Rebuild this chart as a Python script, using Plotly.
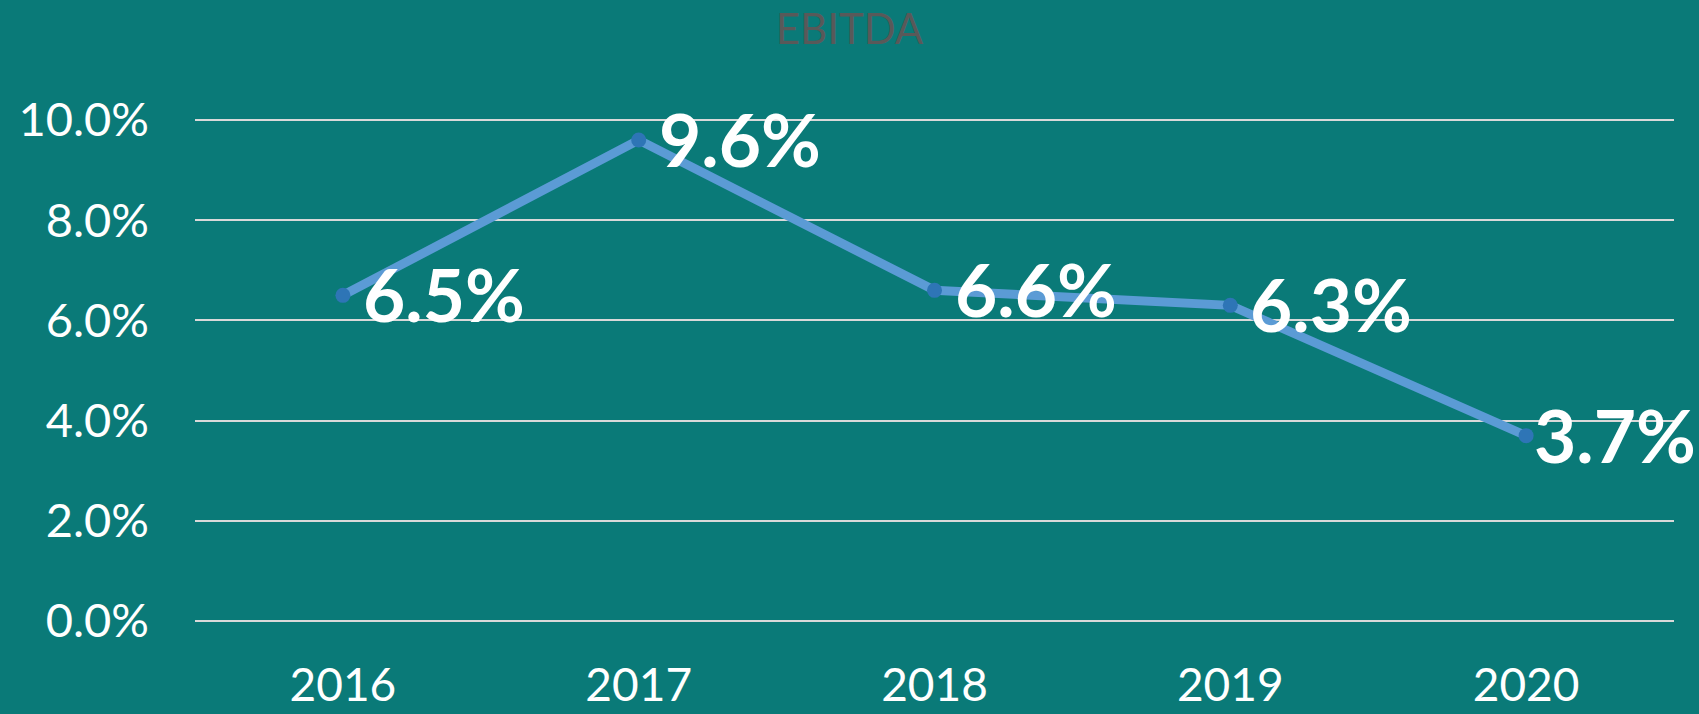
import plotly.graph_objects as go

years = ["2016", "2017", "2018", "2019", "2020"]
ebitda = [0.065, 0.096, 0.066, 0.063, 0.037]
labels = ["6.5%", "9.6%", "6.6%", "6.3%", "3.7%"]
y_ticks = [0.0, 0.02, 0.04, 0.06, 0.08, 0.10]
y_ticktext = ["0.0%", "2.0%", "4.0%", "6.0%", "8.0%", "10.0%"]

bg = "#0A7A78"

fig = go.Figure()
fig.add_trace(go.Scatter(
    x=years, y=ebitda,
    mode="lines+markers",
    line=dict(color="#5B9BD5", width=9),
    marker=dict(color="#2E75B6", size=15),
    cliponaxis=False,
    hoverinfo="skip",
))

n = len(labels)
for i, (v, t) in enumerate(zip(ebitda, labels)):
    fig.add_annotation(
        x=i, y=v, xref="x", yref="y", text="<b>" + t + "</b>", showarrow=False,
        xanchor="left", yanchor="middle",
        xshift=18 if i < n - 1 else 6, yshift=1,
        font=dict(family="Lato", size=73, color="white"),
    )

fig.update_layout(
    width=1699, height=714,
    paper_bgcolor=bg, plot_bgcolor=bg,
    margin=dict(l=195, r=25, t=118, b=91, autoexpand=False),
    showlegend=False,
    title=dict(text="EBITDA", x=0.5, xanchor="center", y=1 - 29 / 714, yanchor="middle",
               font=dict(family="Lato", size=42, color="#595959")),
    xaxis=dict(
        type="category", range=[-0.5, 4.5], automargin=False,
        showgrid=False, zeroline=False, showline=False,
        tickfont=dict(family="Lato", size=46, color="white"),
        ticks="", ticklabelstandoff=31,
    ),
    yaxis=dict(
        range=[-0.0004, 0.1004], tickvals=y_ticks, ticktext=y_ticktext, automargin=False,
        showgrid=True, gridcolor="#D9D9D9", gridwidth=1.5,
        zeroline=False, showline=False,
        tickfont=dict(family="Lato", size=47, color="white"),
        ticks="", ticklabelstandoff=45,
    ),
)

fig.write_html(
    "out.html",
    config={"displayModeBar": False},
    post_script="document.body.style.margin='0';document.body.style.padding='0';"
                "document.body.style.background='" + bg + "';",
)
